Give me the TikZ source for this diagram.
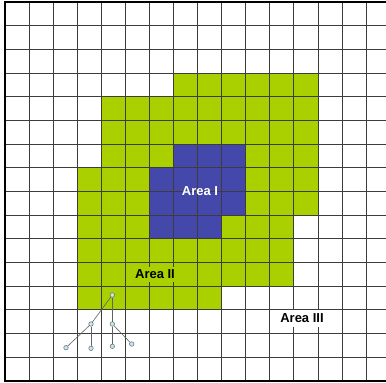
\documentclass[tikz,border=0pt]{standalone}
\usepackage{fontspec}
\setmainfont{Liberation Sans}
\definecolor{grn}{RGB}{170,208,0}
\definecolor{blu}{RGB}{67,72,170}
\definecolor{gridc}{RGB}{60,60,60}
\definecolor{leaf}{RGB}{200,230,238}
\definecolor{leafd}{RGB}{90,110,120}
\newcommand{\cellrun}[4]{%
  \fill[#4] ({5+24.07*#2},{2+23.66*#1}) rectangle ({5+24.07*(#3+1)},{2+23.66*(#1+1)});}
\begin{document}
\begin{tikzpicture}[x=1pt,y=-1pt,
  lbl/.style={font=\bfseries\fontsize{13}{15}\selectfont},
  tn/.style={circle,draw=leafd,fill=leaf,line width=0.5pt,inner sep=0pt,minimum size=4.5pt},
  te/.style={draw=gridc!80,line width=0.6pt}]
\useasboundingbox (0,0) rectangle (386,383);
\fill[white] (0,0) rectangle (386,383);
% green and blue cells
\cellrun{3}{7}{12}{grn}
\cellrun{4}{4}{12}{grn}
\cellrun{5}{4}{12}{grn}
\cellrun{6}{4}{6}{grn}
\cellrun{6}{7}{9}{blu}
\cellrun{6}{10}{12}{grn}
\cellrun{7}{3}{5}{grn}
\cellrun{7}{6}{9}{blu}
\cellrun{7}{10}{12}{grn}
\cellrun{8}{3}{5}{grn}
\cellrun{8}{6}{9}{blu}
\cellrun{8}{10}{12}{grn}
\cellrun{9}{3}{5}{grn}
\cellrun{9}{6}{8}{blu}
\cellrun{9}{9}{11}{grn}
\cellrun{10}{3}{11}{grn}
\cellrun{11}{3}{11}{grn}
\cellrun{12}{3}{8}{grn}
% grid
\foreach \i in {1,...,15} \draw[gridc,line width=0.8pt] ({5+24.07*\i},2) -- ({5+24.07*\i},380.5);
\foreach \j in {1,...,15} \draw[gridc,line width=0.8pt] (5,{2+23.66*\j}) -- (386,{2+23.66*\j});
% borders
\draw[black,line width=2pt] (386,2) -- (5,2) -- (5,380.5) -- (386,380.5);
% labels
\node[lbl,text=white] (a1) at (200,191.5) {Area I};
\node[lbl,fill=grn,inner sep=3pt] (a2) at (155,274.5) {Area II};
\node[lbl,fill=white,inner xsep=6pt,inner ysep=4pt] (a3) at (302,318.5) {Area III};
% tree
\node[tn] (r) at (112.3,295) {};
\node[tn] (c1) at (91,324) {};
\node[tn] (c2) at (112.3,324) {};
\node[tn] (g1) at (66,347.7) {};
\node[tn] (g2) at (91,348.3) {};
\node[tn] (g3) at (112.3,346.3) {};
\node[tn] (g4) at (131.7,344) {};
\draw[te] (r) -- (c1);
\draw[te] (r) -- (c2);
\draw[te] (c1) -- (g1);
\draw[te] (c1) -- (g2);
\draw[te] (c2) -- (g3);
\draw[te] (c2) -- (g4);
\end{tikzpicture}
\end{document}
